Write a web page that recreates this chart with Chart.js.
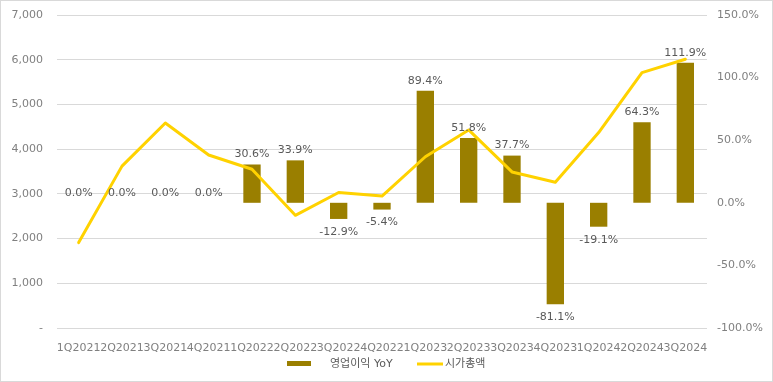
<!DOCTYPE html>
<html>
<head>
<meta charset="utf-8">
<script src="https://cdn.jsdelivr.net/npm/chart.js@4"></script>
<style>
  html, body { margin: 0; padding: 0; background: #fff; }
  #wrap { width: 773px; height: 382px; position: relative; }
</style>
</head>
<body>
<div id="wrap"><canvas id="chart" width="773" height="382"></canvas></div>
<script>
// quarters
const quarters = ['1Q2021', '2Q2021', '3Q2021', '4Q2021', '1Q2022', '2Q2022', '3Q2022', '4Q2022',
                  '1Q2023', '2Q2023', '3Q2023', '4Q2023', '1Q2024', '2Q2024', '3Q2024'];
// 영업이익 YoY (%), right axis
const opYoY = [0, 0, 0, 0, 30.6, 33.9, -12.9, -5.4, 89.4, 51.8, 37.7, -81.1, -19.1, 64.3, 111.9];
// 시가총액, left axis
const marketCap = [1910, 3620, 4585, 3870, 3550, 2520, 3030, 2950, 3830, 4430, 3490, 3260, 4370, 5710, 6010];

const barColor  = '#9a7f00';
const lineColor = '#ffd200';
const tickColor = '#808080';
const fontFam   = '"DejaVu Sans", "Noto Sans CJK KR", sans-serif';

// value labels on the bars
const barLabels = {
  id: 'barLabels',
  afterDatasetsDraw(chart) {
    const ctx = chart.ctx;
    const meta = chart.getDatasetMeta(1);
    ctx.save();
    ctx.font = '11px ' + fontFam;
    ctx.fillStyle = '#595959';
    ctx.textAlign = 'center';
    ctx.textBaseline = 'middle';
    meta.data.forEach((el, i) => {
      const v = opYoY[i];
      const y = v >= 0 ? el.y - 10 : el.y + 13;
      ctx.fillText(v.toFixed(1) + '%', el.x, y);
    });
    ctx.restore();
  }
};

// legend + outer frame
const frameLegend = {
  id: 'frameLegend',
  afterDraw(chart) {
    const ctx = chart.ctx;
    ctx.save();
    ctx.strokeStyle = '#d9d9d9';
    ctx.lineWidth = 1;
    ctx.strokeRect(0.5, 0.5, 772, 381);

    const ly = 364;
    ctx.fillStyle = barColor;
    ctx.fillRect(287, ly - 3, 24, 5);
    ctx.strokeStyle = lineColor;
    ctx.lineWidth = 3;
    ctx.beginPath();
    ctx.moveTo(417, ly);
    ctx.lineTo(443, ly);
    ctx.stroke();

    ctx.font = '11px ' + fontFam;
    ctx.fillStyle = '#595959';
    ctx.textBaseline = 'middle';
    ctx.textAlign = 'left';
    ctx.fillText('영업이익 YoY', 330, ly);
    ctx.fillText('시가총액', 445, ly);
    ctx.restore();
  }
};

new Chart(document.getElementById('chart'), {
  data: {
    labels: quarters,
    datasets: [
      {
        type: 'line',
        label: '시가총액',
        data: marketCap,
        yAxisID: 'y',
        borderColor: lineColor,
        borderWidth: 3,
        tension: 0,
        pointRadius: 0,
        borderJoinStyle: 'round',
        borderCapStyle: 'round',
        order: 0
      },
      {
        type: 'bar',
        label: '영업이익 YoY',
        data: opYoY,
        yAxisID: 'y1',
        backgroundColor: barColor,
        borderWidth: 0,
        barPercentage: 0.4,
        categoryPercentage: 1,
        order: 1
      }
    ]
  },
  options: {
    responsive: false,
    animation: false,
    layout: { padding: { top: 15, bottom: 0, left: 0, right: 0 } },
    plugins: { legend: { display: false }, tooltip: { enabled: false } },
    scales: {
      x: {
        offset: true,
        grid: { display: false },
        border: { display: false },
        ticks: {
          color: tickColor, font: { family: fontFam, size: 11 },
          maxRotation: 0, minRotation: 0, autoSkip: false, padding: 6
        },
        afterFit: s => { s.height = 54; }
      },
      y: {
        position: 'left',
        min: 0, max: 7000,
        grid: { color: '#d9d9d9', drawTicks: false },
        border: { display: false },
        ticks: {
          stepSize: 1000, padding: 14, color: tickColor, font: { family: fontFam, size: 11 },
          callback: v => v === 0 ? '-' : v.toLocaleString('en-US')
        },
        afterFit: s => { s.width = 57; s.paddingTop = 0; s.paddingBottom = 0; }
      },
      y1: {
        position: 'right',
        min: -100, max: 150,
        grid: { display: false, drawTicks: false },
        border: { display: false },
        ticks: {
          stepSize: 50, padding: 10, color: tickColor, font: { family: fontFam, size: 11 },
          callback: v => v.toFixed(1) + '%'
        },
        afterFit: s => { s.width = 66; s.paddingTop = 0; s.paddingBottom = 0; }
      }
    }
  },
  plugins: [barLabels, frameLegend]
});
</script>
</body>
</html>
